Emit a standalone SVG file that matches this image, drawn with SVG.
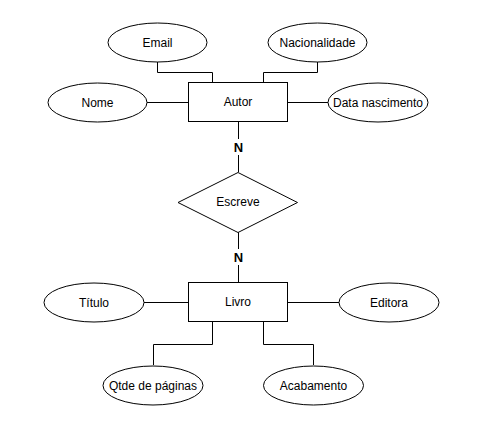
<svg xmlns="http://www.w3.org/2000/svg" width="488" height="440" viewBox="0 0 488 440">
<style>
.s{fill:#fff;stroke:#000;stroke-width:1}
.t{font-family:"Liberation Sans",Arial,sans-serif;font-size:12px;fill:#000;text-anchor:middle;dominant-baseline:central}
.c{fill:none;stroke:#000;stroke-width:1}
.n{font-family:"Liberation Sans",Arial,sans-serif;font-size:13px;font-weight:bold;fill:#000;text-anchor:middle;dominant-baseline:central}
</style>
<rect width="488" height="440" fill="#fff"/>
<g id="connectors">
<path class="c" d="M157.5,62 V72.5 H212.5 V82"/>
<path class="c" d="M317.5,62 V72.5 H263.5 V82"/>
<path class="c" d="M147,102.5 H188"/>
<path class="c" d="M288,102.5 H328"/>
<path class="c" d="M238.5,122 V172"/>
<path class="c" d="M238.5,232 V282"/>
<path class="c" d="M144,302.5 H188"/>
<path class="c" d="M288,302.5 H339"/>
<path class="c" d="M153.5,365 V344.5 H212.5 V322"/>
<path class="c" d="M313.5,365 V344.5 H263.5 V322"/>
<rect x="230" y="139" width="17" height="16" fill="#fff"/>
<text class="n" x="238.5" y="147">N</text>
<rect x="230" y="249" width="17" height="16" fill="#fff"/>
<text class="n" x="238.5" y="257">N</text>
</g>
<g id="autor"><rect class="s" x="188.5" y="82.5" width="99" height="39"/><text class="t" x="238" y="102">Autor</text></g>
<g id="email"><ellipse class="s" cx="157.5" cy="42.5" rx="49.5" ry="19.5"/><text class="t" x="157.5" y="42.5">Email</text></g>
<g id="nacionalidade"><ellipse class="s" cx="317.5" cy="42.5" rx="49.5" ry="19.5"/><text class="t" x="317.5" y="42.5">Nacionalidade</text></g>
<g id="nome"><ellipse class="s" cx="97.5" cy="102.5" rx="49.5" ry="19.5"/><text class="t" x="97.5" y="102.5">Nome</text></g>
<g id="data"><ellipse class="s" cx="378" cy="102.5" rx="50" ry="19.5"/><text class="t" x="378" y="102.5">Data nascimento</text></g>
<g id="escreve"><polygon class="s" points="238,172.5 297.5,202.5 238,232.5 178,202.5"/><text class="t" x="238" y="202">Escreve</text></g>
<g id="livro"><rect class="s" x="188.5" y="282.5" width="99" height="39"/><text class="t" x="238" y="302">Livro</text></g>
<g id="titulo"><ellipse class="s" cx="94" cy="302.5" rx="50" ry="19.5"/><text class="t" x="94" y="302.5">Título</text></g>
<g id="editora"><ellipse class="s" cx="389" cy="302.5" rx="50" ry="19.5"/><text class="t" x="389" y="302.5">Editora</text></g>
<g id="qtde"><ellipse class="s" cx="153" cy="385.5" rx="50" ry="19.5"/><text class="t" x="153" y="385.5">Qtde de páginas</text></g>
<g id="acabamento"><ellipse class="s" cx="313.5" cy="385.5" rx="50" ry="19.5"/><text class="t" x="313.5" y="385.5">Acabamento</text></g>
</svg>
